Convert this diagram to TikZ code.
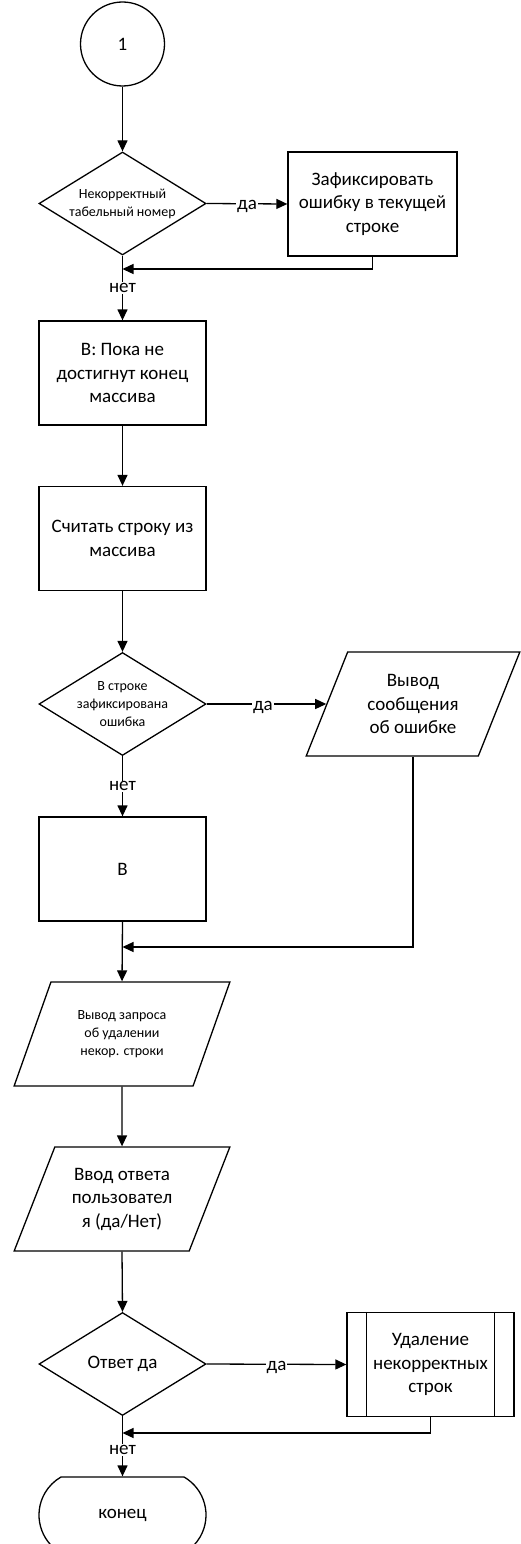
\documentclass[tikz,border=0pt]{standalone}
\usepackage{fontspec}
\setmainfont{Carlito}
\usetikzlibrary{shapes.geometric,shapes.misc,arrows.meta}

\begin{document}
\begin{tikzpicture}[x=1pt,y=-1pt,
  line width=1.3pt,
  every node/.style={font=\fontsize{19}{23.5}\selectfont, align=center},
  small/.style={font=\fontsize{14}{18}\selectfont},
  flow/.style={-{Triangle[length=11pt,width=10pt]}},
  plain/.style={draw, line width=1.3pt},
  procbox/.style={plain, rectangle, minimum width=167pt, minimum height=104pt, inner sep=0pt},
  decision/.style={plain, diamond, aspect=1.6, minimum width=167pt, minimum height=103pt, inner sep=0pt},
  iobox/.style={plain, trapezium, trapezium left angle=64, trapezium right angle=116,
    trapezium stretches=true, minimum width=216pt, minimum height=104pt, inner sep=0pt},
  connector/.style={plain, circle, minimum size=84pt, inner sep=0pt},
  terminal/.style={plain, rounded rectangle, rounded rectangle arc length=120,
    minimum width=167pt, minimum height=76pt, inner sep=0pt},
  subproc/.style={procbox},
  edgelabel/.style={fill=white, inner sep=1pt},
  yeslabel/.style={edgelabel, yshift=-3pt}
]
\useasboundingbox (0,0) rectangle (520,1544);

% blocks
\node[connector] (c1) at (122.5,44) {1};
\node[decision, small] (d1) at (122.5,203.5) {Некорректный\\табельный номер};
\node[procbox, minimum width=169pt] (b1) at (372.5,204) {Зафиксировать\\ошибку в текущей\\строке};
\node[procbox] (b2) at (122.5,373) {В: Пока не\\достигнут конец\\массива};
\node[procbox] (b3) at (122.5,538.5) {Считать строку из\\массива};
\node[decision, small] (d2) at (122.5,704) {В строке\\зафиксирована\\ошибка};
\node[iobox, minimum width=214pt] (p1) at (413,704) {Вывод\\сообщения\\об ошибке};
\node[procbox] (b4) at (122.5,869) {В};
\node[iobox, small] (p2) at (122,1034) {Вывод запроса\\об удалении\\некор. строки};
\node[iobox] (p3) at (122,1199) {Ввод ответа\\пользовател\\я (да/Нет)};
\node[decision] (d3) at (122.5,1364) {Ответ да};
\node[subproc] (s1) at (430.5,1364.5) {Удаление\\некорректных\\строк};
\draw ([xshift=20pt]s1.north west) -- ([xshift=20pt]s1.south west);
\draw ([xshift=-20pt]s1.north east) -- ([xshift=-20pt]s1.south east);
\node[terminal] (t1) at (122.5,1515) {конец};

% merge points on the main line
\coordinate (j1) at (122.5,269);
\coordinate (j2) at (122.5,947);
\coordinate (j3) at (122.5,1433);

% connectors
\draw[flow] (c1) -- (d1);
\draw[flow] (d1.east) -- node[yeslabel, pos=0.5] {да} (b1.west);
\draw[flow] (b1.south) |- (j1);
\draw[flow] (d1.south) -- node[edgelabel, pos=0.5] {нет} (b2.north);
\draw[flow] (b2) -- (b3);
\draw[flow] (b3) -- (d2);
\draw[flow] (d2.east) -- node[yeslabel, pos=0.47] {да} (d2.east -| p1.west);
\draw[flow] (d2.south) -- node[edgelabel, pos=0.5] {нет} (b4.north);
\draw[flow] (p1.south) |- (j2);
\draw[flow] (b4.south) -- (p2.north);
\draw[flow] (p2.south) -- (p3.north);
\draw[flow] (p3.south) -- (d3.north);
\draw[flow] (d3.east) -- node[yeslabel, pos=0.5] {да} (s1.west);
\draw[flow] (s1.south) |- (j3);
\draw[flow] (d3.south) -- node[edgelabel, pos=0.56] {нет} (t1.north);
\end{tikzpicture}
\end{document}
